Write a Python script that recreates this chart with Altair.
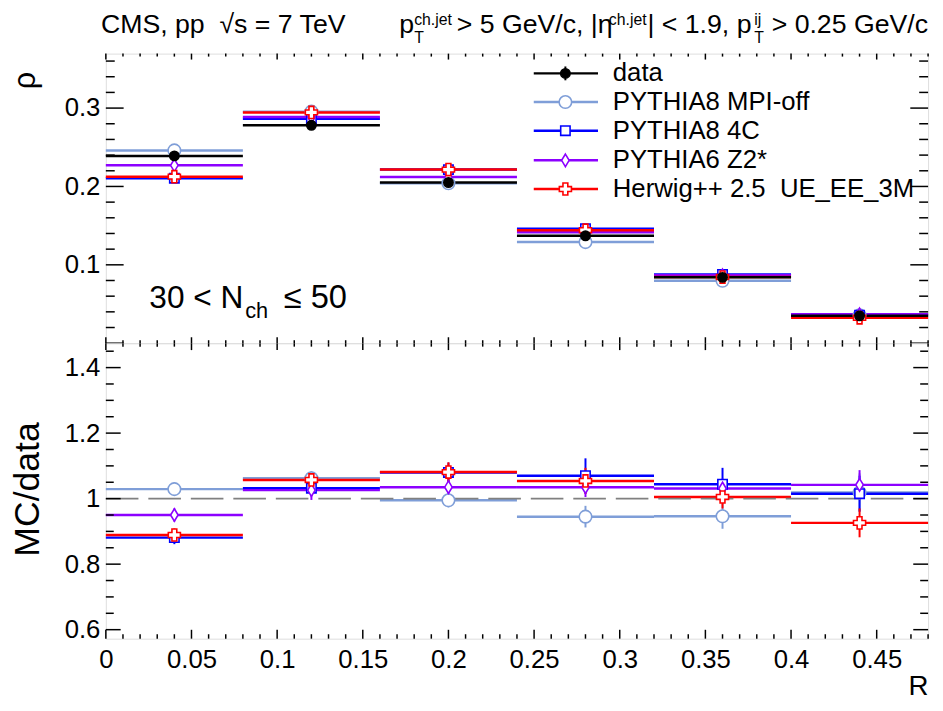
import altair as alt
import pandas as pd

# ---------------- data ----------------
bin_lo = [0.00, 0.08, 0.16, 0.24, 0.32, 0.40]
bin_hi = [0.08, 0.16, 0.24, 0.32, 0.40, 0.48]
r_center = [0.04, 0.12, 0.20, 0.28, 0.36, 0.44]

series = ["data", "PYTHIA8 MPI-off", "PYTHIA8 4C", "PYTHIA6 Z2*", "Herwig++ 2.5\u00a0\u00a0UE_EE_3M"]
colors = ["#000000", "#7F9ED8", "#0000FF", "#8C00FF", "#FF0000"]

rho_data     = [0.239, 0.278, 0.205, 0.137, 0.084, 0.035]
rho_data_err = [0.004, 0.005, 0.004, 0.003, 0.002, 0.002]
rho_mpioff   = [0.246, 0.2955, 0.204, 0.129, 0.0796, 0.0357]
rho_4c       = [0.2106, 0.2865, 0.2215, 0.1462, 0.0877, 0.0356]
rho_z2       = [0.227, 0.2885, 0.212, 0.1415, 0.0866, 0.0368]
rho_herwig   = [0.2125, 0.2945, 0.2215, 0.1442, 0.0844, 0.0324]
rho_mc_err   = [0.002, 0.003, 0.003, 0.003, 0.002, 0.002]

ratio_mpioff     = [1.029, 1.062, 0.995, 0.945, 0.946, 1.019]
ratio_mpioff_err = [0.020, 0.022, 0.022, 0.033, 0.038, 0.058]
ratio_4c         = [0.881, 1.032, 1.080, 1.070, 1.044, 1.015]
ratio_4c_err     = [0.020, 0.022, 0.030, 0.053, 0.050, 0.055]
ratio_z2         = [0.950, 1.026, 1.035, 1.035, 1.031, 1.042]
ratio_z2_err     = [0.020, 0.030, 0.025, 0.030, 0.030, 0.045]
ratio_herwig     = [0.889, 1.057, 1.081, 1.054, 1.005, 0.926]
ratio_herwig_err = [0.020, 0.022, 0.030, 0.040, 0.035, 0.044]

x_major = [0, 0.05, 0.1, 0.15, 0.2, 0.25, 0.3, 0.35, 0.4, 0.45]
x_minor = [i / 100 for i in range(0, 49) if i % 5 != 0]
ytop_major = [0, 0.1, 0.2, 0.3]
ytop_labels = [0.1, 0.2, 0.3]
ytop_minor = [i / 50 for i in range(0, 19) if i % 5 != 0]
ybot_major = [0.6, 0.8, 1.0, 1.2, 1.4]
ybot_minor = [i / 20 for i in range(12, 30) if i % 4 != 0]

# ---------------- tables ----------------
S_DATA, S_MPI, S_4C, S_Z2, S_HW = series
draw_order = [S_MPI, S_4C, S_Z2, S_HW, S_DATA]
top_vals = {S_DATA: (rho_data, rho_data_err),
            S_MPI: (rho_mpioff, rho_mc_err),
            S_4C: (rho_4c, rho_mc_err),
            S_Z2: (rho_z2, rho_mc_err),
            S_HW: (rho_herwig, rho_mc_err)}
bot_vals = {S_MPI: (ratio_mpioff, ratio_mpioff_err),
            S_4C: (ratio_4c, ratio_4c_err),
            S_Z2: (ratio_z2, ratio_z2_err),
            S_HW: (ratio_herwig, ratio_herwig_err)}


def make_df(vals):
    rows = []
    for s in draw_order:
        if s not in vals:
            continue
        v, e = vals[s]
        for i in range(6):
            rows.append(dict(series=s, R=r_center[i], lo=bin_lo[i], hi=bin_hi[i],
                             val=v[i], elo=v[i] - e[i], ehi=v[i] + e[i]))
    return pd.DataFrame(rows)


df_top = make_df(top_vals)
df_bot = make_df(bot_vals)

# ---------------- styling ----------------
W = 832
H_TOP = 293
H_BOT = 299
FONT = "Liberation Sans"

x_scale = alt.Scale(domain=[0, 0.48], nice=False, zero=False)
ytop_scale = alt.Scale(domain=[0, 0.3695], nice=False, zero=False)
ybot_scale = alt.Scale(domain=[0.5725, 1.4745], nice=False, zero=False)
color_scale = alt.Scale(domain=series, range=colors)

marker_specs = {
    S_DATA: dict(shape="circle", size=90, fill="black"),
    S_MPI: dict(shape="circle", size=160, fill="white"),
    S_4C: dict(shape="square", size=90, fill="white"),
    S_Z2: dict(shape="M0,-1L0.6,0L0,1L-0.6,0Z", size=160, fill="white"),
    S_HW: dict(shape="cross", size=150, fill="white"),
}
col_of = dict(zip(series, colors))

ytop_axis = alt.Axis(values=ytop_labels, format="~g",
                     ticks=False, domain=False, grid=False, labelFontSize=26, labelPadding=6,
                     labelFont=FONT, labelColor="black", labelOverlap=False,
                     title="ρ", titleFont=FONT, titleFontSize=31, titleFontWeight="normal",
                     titleColor="black", titleAngle=270, titleAlign="right",
                     titleBaseline="alphabetic", titleX=-72, titleY=18)
ybot_axis = alt.Axis(values=ybot_major, format="~g",
                     ticks=False, domain=False, grid=False, labelFontSize=26, labelPadding=6,
                     labelFont=FONT, labelColor="black", labelOverlap=False,
                     title="MC/data", titleFont=FONT, titleFontSize=36, titleFontWeight="normal",
                     titleColor="black", titleAngle=270, titleAlign="center",
                     titleBaseline="alphabetic", titleX=-68, titleY=H_BOT / 2 - 2)
xbot_axis = alt.Axis(values=x_major, format="~g", ticks=False, domain=False, grid=False,
                     labelFontSize=26, labelPadding=8, labelFont=FONT, labelColor="black",
                     labelFlush=False, labelOverlap=False,
                     title="R", titleFont=FONT, titleFontSize=28, titleFontWeight="normal",
                     titleColor="black", titleAlign="right", titleBaseline="alphabetic",
                     titleX=W, titleY=56)


def tick_layers(xs_major, xs_minor, ys_major, ys_minor, yscale, yaxis, xaxis, H,
                ylen, xlen_bottom, xlen_top):
    layers = []
    for vals, ln in [(ys_major, ylen[0]), (ys_minor, ylen[1])]:
        d = pd.DataFrame({"v": vals})
        for x1, x2 in [(0, ln), (W - ln, W)]:
            layers.append(alt.Chart(d).mark_rule(color="black", strokeWidth=1.5).encode(
                y=alt.Y("v:Q", scale=yscale, axis=yaxis), x=alt.value(x1), x2=alt.value(x2)))
    for vals, lb, lt in [(xs_major, xlen_bottom[0], xlen_top[0]), (xs_minor, xlen_bottom[1], xlen_top[1])]:
        d = pd.DataFrame({"v": vals})
        for y1, y2 in [(H - lb, H), (0, lt)]:
            layers.append(alt.Chart(d).mark_rule(color="black", strokeWidth=1.5).encode(
                x=alt.X("v:Q", scale=x_scale, axis=xaxis), y=alt.value(y1), y2=alt.value(y2)))
    return layers


def series_layers(df, yscale, yaxis, xaxis, with_data):
    lines = alt.Chart(df).mark_rule(strokeWidth=2.5).encode(
        x=alt.X("lo:Q", scale=x_scale, axis=xaxis), x2="hi:Q",
        y=alt.Y("val:Q", scale=yscale, axis=yaxis),
        color=alt.Color("series:N", scale=color_scale, legend=None))
    errs = alt.Chart(df).mark_rule(strokeWidth=2).encode(
        x=alt.X("R:Q", scale=x_scale, axis=xaxis),
        y=alt.Y("elo:Q", scale=yscale, axis=yaxis), y2="ehi:Q",
        color=alt.Color("series:N", scale=color_scale, legend=None))
    pts = []
    for s in draw_order:
        if s == S_DATA and not with_data:
            continue
        m = marker_specs[s]
        pts.append(alt.Chart(df[df.series == s]).mark_point(
            shape=m["shape"], size=m["size"], filled=True, fill=m["fill"],
            stroke=col_of[s], strokeWidth=1.6, opacity=1).encode(
            x=alt.X("R:Q", scale=x_scale, axis=xaxis),
            y=alt.Y("val:Q", scale=yscale, axis=yaxis)))
    return [lines, errs], pts


one = pd.DataFrame({"a": [0]})


def txt(s, x, y, size, align="left", baseline="alphabetic"):
    return alt.Chart(one).mark_text(text=s, fontSize=size, font=FONT, color="black",
                                    align=align, baseline=baseline).encode(
        x=alt.value(x), y=alt.value(y))


# ---------------- top panel ----------------
top_ticks = tick_layers(x_major, x_minor, ytop_major, ytop_minor, ytop_scale, ytop_axis, None,
                        H_TOP, (18, 9), (6, 3), (6, 3))
top_lines, top_pts = series_layers(df_top, ytop_scale, ytop_axis, None, True)

# legend
leg_rows = [20, 49, 78, 108, 137]
leg_layers = []
for s, yy in zip(series, leg_rows):
    m = marker_specs[s]
    leg_layers.append(alt.Chart(one).mark_rule(color=col_of[s], strokeWidth=2.5).encode(
        x=alt.value(433), x2=alt.value(498), y=alt.value(yy)))
    if s == S_DATA:
        leg_layers.append(alt.Chart(one).mark_rule(color="black", strokeWidth=2).encode(
            x=alt.value(465), y=alt.value(yy - 7), y2=alt.value(yy + 7)))
    leg_layers.append(alt.Chart(one).mark_point(
        shape=m["shape"], size=m["size"], filled=True, fill=m["fill"],
        stroke=col_of[s], strokeWidth=1.6, opacity=1).encode(x=alt.value(465), y=alt.value(yy)))
    leg_layers.append(txt(s, 513, yy, 26, baseline="middle"))

# annotations
NB = "\u00a0"
ann = [
    txt("30 < N", 44, 257, 32),
    txt("ch", 141, 268, 22),
    txt("≤ 50", 244, 257, 33, align="right"),
    txt("CMS, pp" + NB + NB + "√s = 7 TeV", -5, -21, 27),
    txt("p", 297, -21, 27),
    txt("ch.jet", 312, -29, 16),
    txt("T", 312, -11, 16),
    txt(NB + "> 5 GeV/c, |η", 355, -21, 27),
    txt("ch.jet", 509, -29, 16),
    txt("| < 1.9, p", 548, -21, 27),
    txt("ij", 656, -29, 16),
    txt("T", 656, -11, 16),
    txt("> 0.25 GeV/c", 832, -21, 27, align="right"),
]

top = alt.layer(*top_lines, *top_ticks, *top_pts, *leg_layers, *ann).properties(
    width=W, height=H_TOP)

# ---------------- bottom panel ----------------
bot_ticks = tick_layers(x_major, x_minor, ybot_major, ybot_minor, ybot_scale, ybot_axis, xbot_axis,
                        H_BOT, (15, 8), (9, 4.5), (7, 3.5))
bot_lines, bot_pts = series_layers(df_bot, ybot_scale, ybot_axis, xbot_axis, False)
unity = alt.Chart(pd.DataFrame({"u": [1.0]})).mark_rule(
    color="#808080", strokeWidth=2, strokeDash=[33, 10]).encode(
    y=alt.Y("u:Q", scale=ybot_scale, axis=ybot_axis), x=alt.value(0), x2=alt.value(W))

bot = alt.layer(*bot_lines, unity, *bot_ticks, *bot_pts).properties(width=W, height=H_BOT)

chart = alt.vconcat(top, bot, spacing=0, bounds="flush").resolve_scale(
    x="independent", y="independent").properties(
    padding={"left": 1, "top": -2, "right": 5, "bottom": 5}
).configure_view(stroke="black", strokeWidth=2).configure(background="white")

chart.save("out.html", embed_options={"renderer": "svg", "actions": False})
